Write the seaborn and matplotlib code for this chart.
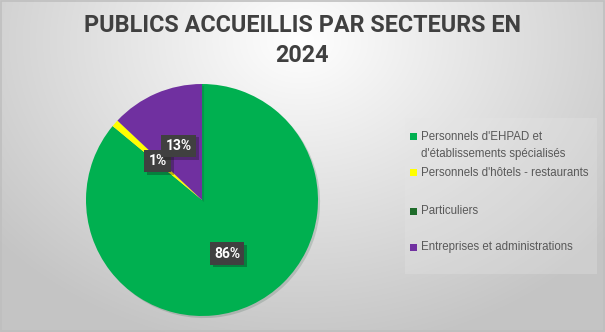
import numpy as np
import matplotlib
matplotlib.use("Agg")
import matplotlib.pyplot as plt
import matplotlib.patheffects as pe
import seaborn as sns

categories = ["Personnels d'EHPAD et\nd'établissements spécialisés",
              "Personnels d'hôtels - restaurants",
              "Particuliers",
              "Entreprises et administrations"]
values = [86, 1, 0, 13]
colors = ["#00B050", "#FFFF00", "#1E6B2A", "#7030A0"]
title_lines = ["PUBLICS ACCUEILLIS PAR SECTEURS EN", "2024"]

sns.set_theme(style="white")
plt.rcParams['font.family'] = ['Roboto', 'Liberation Sans', 'DejaVu Sans']

W, H = 605, 332
fig = plt.figure(figsize=(W / 100, H / 100), dpi=100)

# radial gradient background
bg = fig.add_axes([0, 0, 1, 1], zorder=-10)
yy, xx = np.mgrid[0:H, 0:W]
d = np.sqrt(((xx - 300) / 380.0) ** 2 + ((yy - 40) / 300.0) ** 2)
g = np.clip(1.0 - 0.22 * d, 0.77, 1.0)
img = np.dstack([g, g, g])
bg.imshow(img, aspect='auto', extent=[0, 1, 0, 1], origin='upper')
bg.set_xlim(0, 1); bg.set_ylim(0, 1)
bg.axis('off')
bg.add_patch(plt.Rectangle((0.0015, 0.003), 0.997, 0.994, fill=False,
                           edgecolor="#BFBFBF", linewidth=1.2, transform=bg.transAxes))

# legend background box (subtle)
bg.add_patch(plt.Rectangle((405 / W, 1 - 274 / H), (597 - 405) / W, (274 - 118) / H,
                           facecolor="#E6E6E6", edgecolor="none", alpha=0.3,
                           transform=bg.transAxes))

cx, cy, r = 202, 200, 116
ax = fig.add_axes([(cx - r) / W, (H - cy - r) / H, 2 * r / W, 2 * r / H])
wedges, texts = ax.pie(values, colors=colors, startangle=90, counterclock=False,
                       radius=1.0, wedgeprops=dict(linewidth=0))
for w in wedges:
    w.set_path_effects([pe.SimplePatchShadow(offset=(1.5, -1.5), alpha=0.15), pe.Normal()])
ax.set_xlim(-1, 1); ax.set_ylim(-1, 1)
ax.set_aspect('auto')
ax.axis('off')

total = sum(values)
for w, v in zip(wedges, values):
    if v <= 0:
        continue
    ang = np.deg2rad((w.theta1 + w.theta2) / 2)
    x, y = 0.51 * np.cos(ang), 0.51 * np.sin(ang)
    t = ax.text(x, y, f"{v / total * 100:.0f}%", ha='center', va='center',
                color='white', fontsize=10, fontweight='bold',
                family=['Roboto', 'Liberation Sans', 'DejaVu Sans'],
                bbox=dict(boxstyle='square,pad=0.3', facecolor='#404040', edgecolor='none'))
    t.get_bbox_patch().set_path_effects([pe.SimplePatchShadow(offset=(2, -2), alpha=0.3), pe.Normal()])

for line, ty in zip(title_lines, [25, 55]):
    fig.text(302 / W, 1 - ty / H, line, ha='center', va='center',
             fontsize=16.8, fontweight='bold', color='#404040',
             family=['Roboto', 'Liberation Sans', 'DejaVu Sans'])

# legend
leg_y = [136, 173, 211, 247]
for cat, col, ly in zip(categories, colors, leg_y):
    fig.patches.append(plt.Rectangle((410 / W, 1 - (ly + 3.5) / H), 7 / W, 7 / H,
                                     facecolor=col, edgecolor='none',
                                     transform=fig.transFigure, figure=fig))
    if '\n' in cat:
        fig.text(421 / W, 1 - (ly - 4.5) / H, cat, ha='left', va='top',
                 fontsize=8.3, color='#595959', linespacing=1.5,
                 family=['Liberation Sans', 'DejaVu Sans'])
    else:
        fig.text(421 / W, 1 - ly / H, cat, ha='left', va='center',
                 fontsize=8.3, color='#595959',
                 family=['Liberation Sans', 'DejaVu Sans'])

fig.savefig("out.png", dpi=100)
